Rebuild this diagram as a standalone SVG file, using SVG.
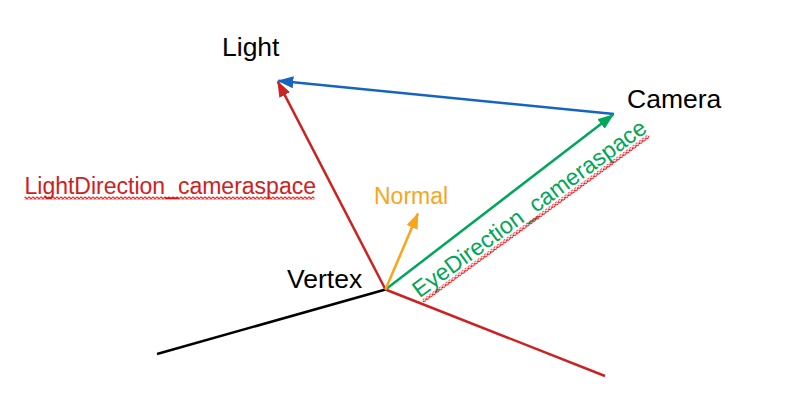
<svg xmlns="http://www.w3.org/2000/svg" width="802" height="414" viewBox="0 0 802 414">
  <style>
    .lbl { font-family: "Liberation Sans", Arial, sans-serif; font-size: 26.5px; fill: #000; }
    .sm { font-family: "Liberation Sans", Arial, sans-serif; font-size: 23px; }
    .ln { stroke-width: 2.5; fill: none; stroke-linecap: butt; }
  </style>
  <defs>
    <marker id="ar-red" markerUnits="userSpaceOnUse" markerWidth="16" markerHeight="12" refX="15" refY="6" orient="auto">
      <path d="M0,0 L16,6 L0,12 z" fill="#cc2222"/>
    </marker>
    <marker id="ar-blue" markerUnits="userSpaceOnUse" markerWidth="16" markerHeight="12" refX="15" refY="6" orient="auto">
      <path d="M0,0 L16,6 L0,12 z" fill="#1565c0"/>
    </marker>
    <marker id="ar-green" markerUnits="userSpaceOnUse" markerWidth="16" markerHeight="12" refX="15" refY="6" orient="auto">
      <path d="M0,0 L16,6 L0,12 z" fill="#00a65a"/>
    </marker>
    <marker id="ar-orange" markerUnits="userSpaceOnUse" markerWidth="16" markerHeight="12" refX="15" refY="6" orient="auto">
      <path d="M0,0 L16,6 L0,12 z" fill="#f8a51c"/>
    </marker>
    <pattern id="wave" patternUnits="userSpaceOnUse" width="4" height="3.5">
      <path d="M0,1.75 L1,0.6 L2,1.75 L3,2.9 L4,1.75" stroke="#ee0000" stroke-width="1.1" fill="none"/>
    </pattern>
  </defs>
  <rect width="802" height="414" fill="#fff"/>

  <g id="connectors">
    <line class="ln" x1="157" y1="354" x2="385.5" y2="289.5" stroke="#000"/>
    <line class="ln" x1="385.5" y1="289.5" x2="605" y2="376" stroke="#cc2222"/>
    <line class="ln" x1="385.5" y1="289.5" x2="277.8" y2="81.6" stroke="#cc2222" marker-end="url(#ar-red)"/>
    <line class="ln" x1="614" y1="114" x2="278.3" y2="80.8" stroke="#1565c0" marker-end="url(#ar-blue)"/>
    <line class="ln" x1="385.5" y1="289.5" x2="613" y2="114.8" stroke="#00a65a" marker-end="url(#ar-green)"/>
    <line class="ln" x1="385.5" y1="289.5" x2="417.9" y2="213.6" stroke="#f8a51c" marker-end="url(#ar-orange)"/>
  </g>

  <g id="node-light">
    <text class="lbl" x="222" y="56">Light</text>
  </g>
  <g id="node-camera">
    <text class="lbl" x="627" y="108">Camera</text>
  </g>
  <g id="node-vertex">
    <text class="lbl" x="287" y="288">Vertex</text>
  </g>
  <g id="label-normal">
    <text class="sm" x="374" y="204" fill="#f8a51c">Normal</text>
  </g>
  <g id="label-lightdir">
    <text class="sm" x="24.5" y="194" fill="#cc2222">LightDirection_cameraspace</text>
    <rect x="24.5" y="196.5" width="290" height="3.5" fill="url(#wave)"/>
  </g>
  <g id="label-eyedir" transform="translate(419.5,298.5) rotate(-36.2)">
    <text class="sm" x="0" y="0" fill="#00a65a" style="font-size:23.2px">EyeDirection_cameraspace</text>
    <rect x="1" y="2.5" width="280" height="3.5" fill="url(#wave)"/>
  </g>
</svg>
